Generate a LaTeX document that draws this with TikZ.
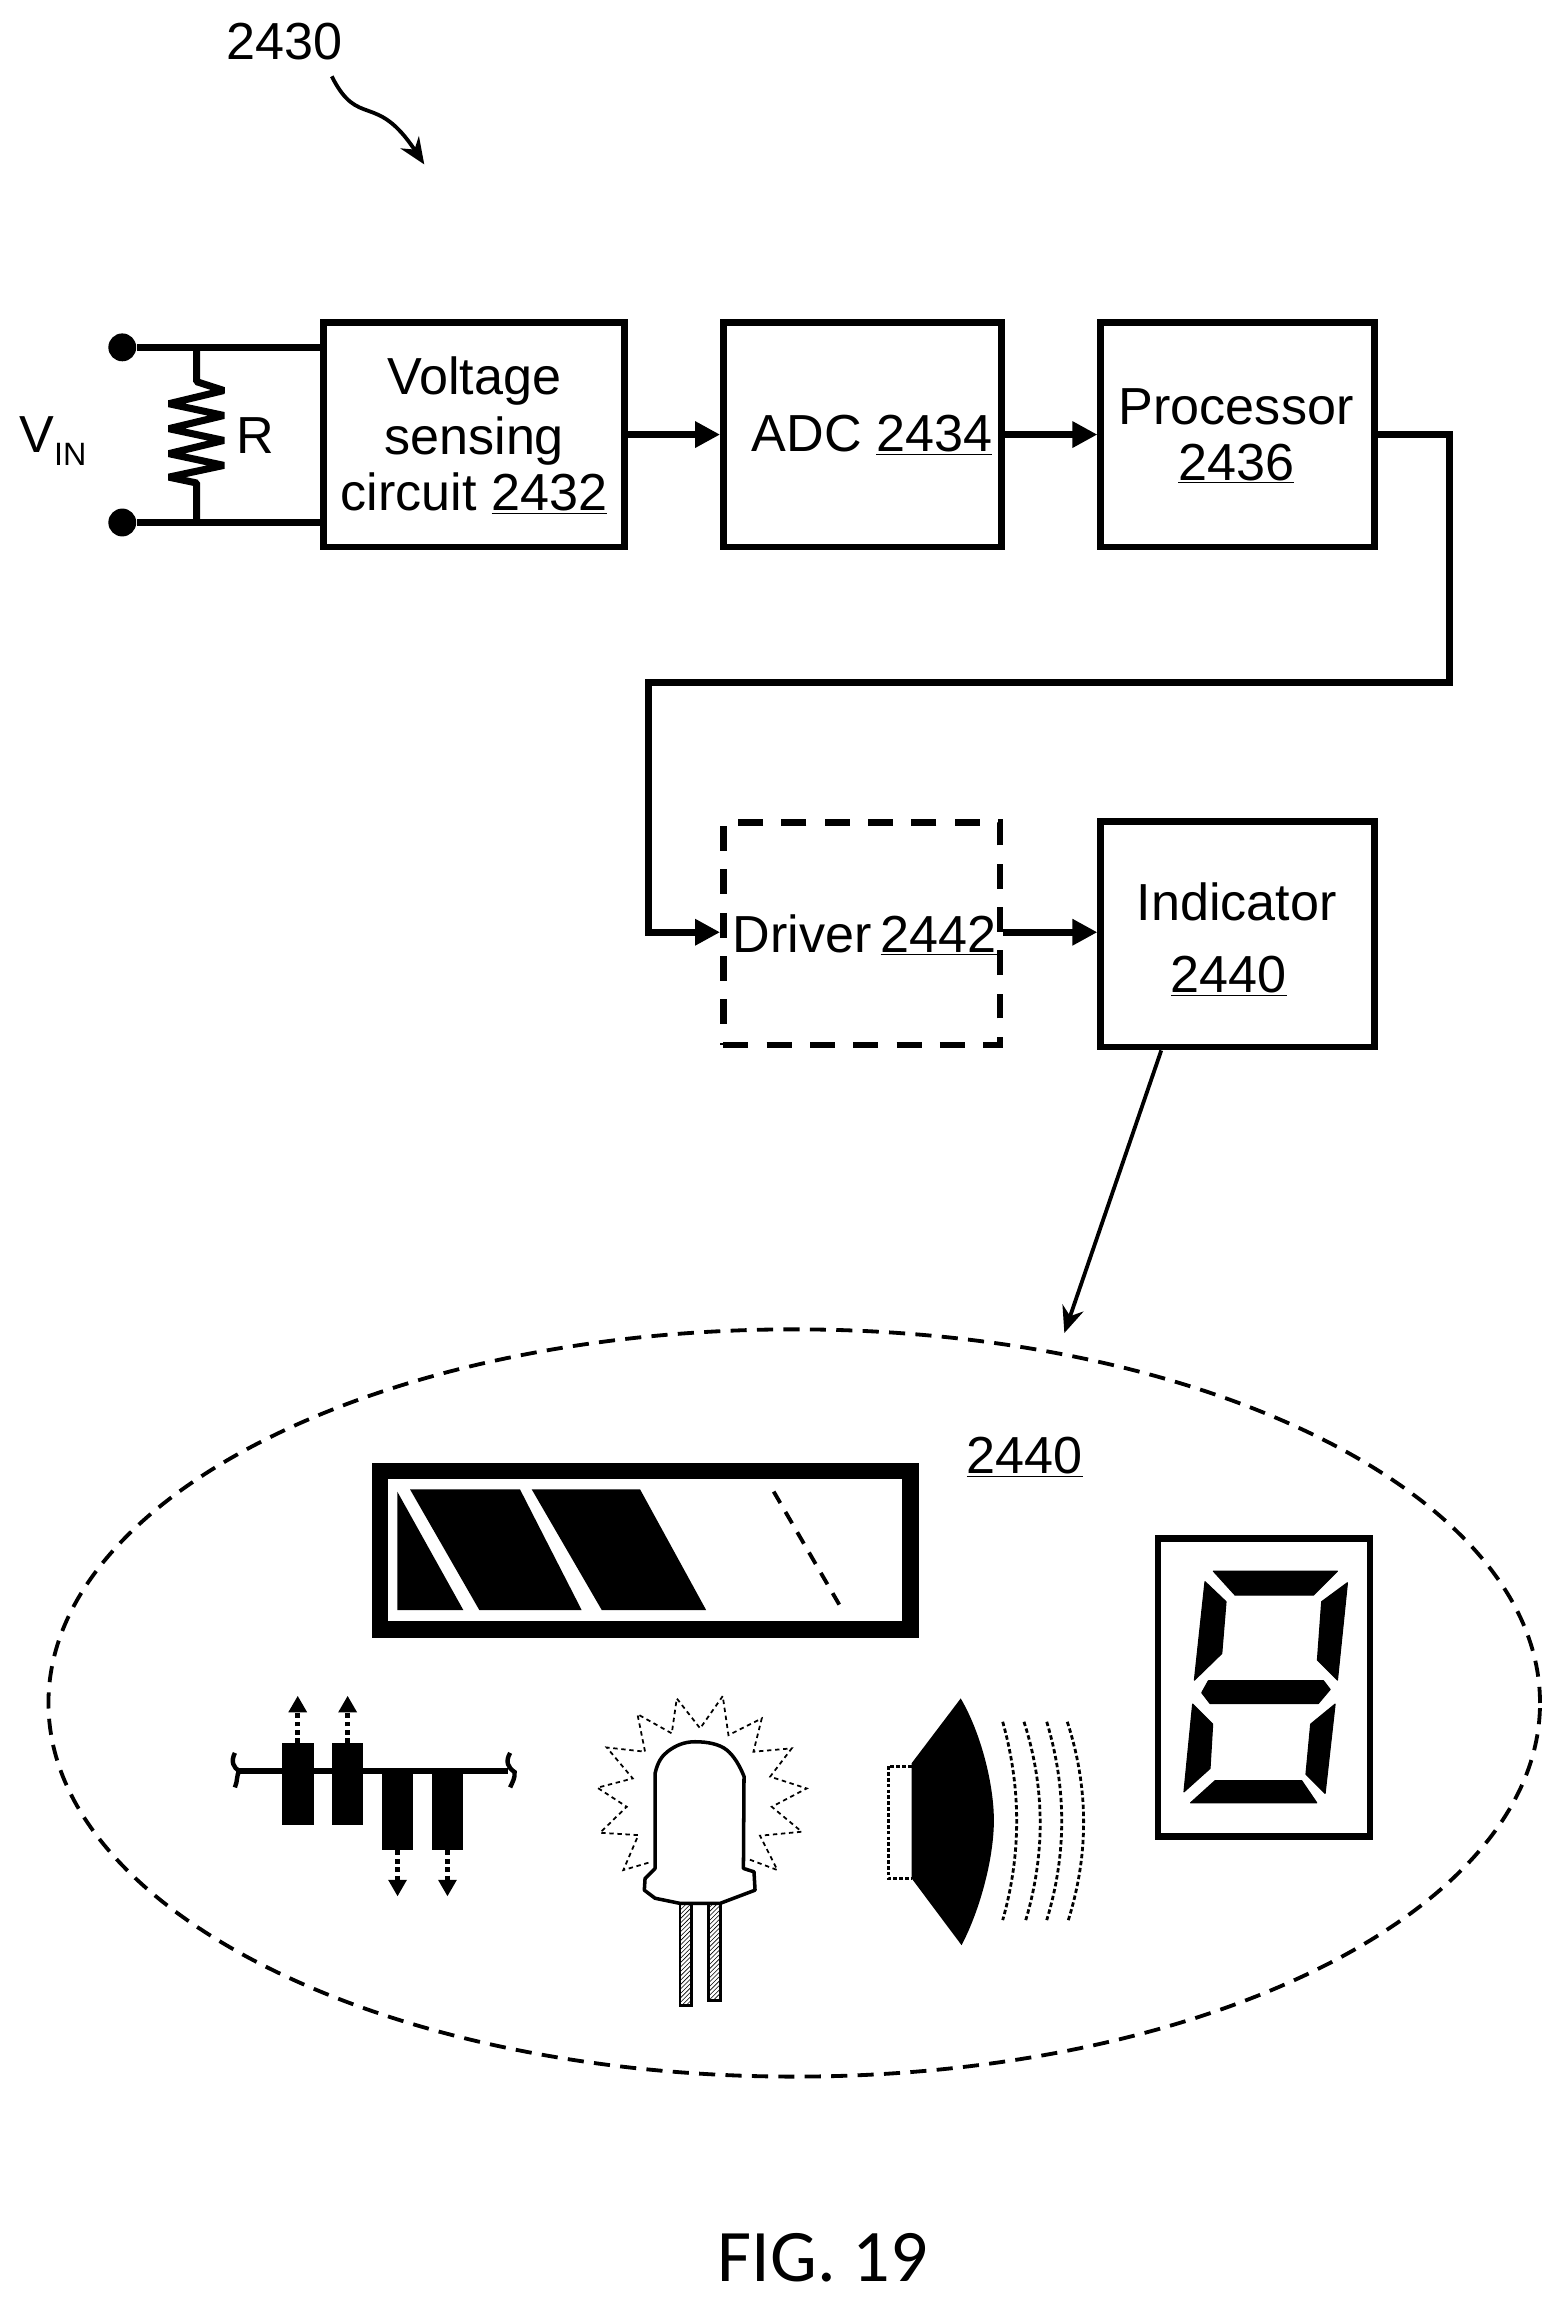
\documentclass[tikz,border=0pt]{standalone}
\usepackage{fontspec}
\setmainfont{Liberation Sans}
\newfontfamily\figfont{Carlito}
\usetikzlibrary{shapes.geometric, arrows.meta, positioning, patterns}

\begin{document}
\begin{tikzpicture}[
    x=1pt, y=-1pt,
    box/.style={draw, rectangle, line width=4.5pt, inner sep=0pt},
    dashedbox/.style={box, dash pattern=on 17pt off 12.5pt},
    label/.style={inner sep=0pt, align=center, font=\fontsize{35.5}{38}\selectfont},
    terminal/.style={circle, fill=black, inner sep=0pt, minimum size=19pt},
    wire/.style={line width=4.8pt},
    arrow/.style={-{Triangle[length=17pt,width=17pt]}, line width=4.5pt},
    thinarrow/.style={-{Stealth[length=18pt,width=15pt]}, line width=2.6pt},
    bar/.style={fill=black, rectangle, inner sep=0pt, minimum width=21.6pt, minimum height=55.7pt},
    dotarrow/.style={-{Triangle[length=11.3pt,width=12pt]}, line width=3.2pt, dash pattern=on 3.2pt off 2.5pt},
    wave/.style={line width=1.9pt, dash pattern=on 3pt off 1.8pt},
    rays/.style={line width=1.2pt, dash pattern=on 3pt off 2.5pt},
    leg/.style={line width=2pt, pattern=north east lines},
    segment/.style={fill=black, draw=black, line width=0.8pt, line join=round}
]
\useasboundingbox (0,0) rectangle (1064,1569.4);

% Top reference
\node[label] (ref) at (193.5,28) {2430};
\coordinate (reftail) at (226,52);
\coordinate (reftip) at (289,112);
\draw[thinarrow] (reftail) .. controls (244,88) and (256,62) .. (reftip);

% Input circuit
\node[terminal] (topin) at (83.3,236.6) {};
\node[terminal] (botin) at (83.3,355.9) {};
\node[label, anchor=base west] (vin) at (13,308.4) {V\raisebox{-9pt}{\fontsize{22}{22}\selectfont IN}};
\node[label] (rlabel) at (173.7,297) {R};

% Blocks
\node[box, minimum width=205pt, minimum height=153pt] (sensing) at (322.7,296) {};
\node[box, minimum width=189.5pt, minimum height=153pt] (adc) at (587.5,296) {};
\node[box, minimum width=186.5pt, minimum height=153pt] (proc) at (843,296) {};
\node[dashedbox, minimum width=188.5pt, minimum height=151.5pt] (driver) at (587,636) {};
\node[box, minimum width=186.5pt, minimum height=153.5pt] (indicator) at (843,636.5) {};

% Block texts
\node[label] (sensingtext) at (323,296.5) {Voltage\\[3pt]sensing\\circuit \underline{2432}};
\node[label] (adctext) at (594,296.5) {ADC \underline{2434}};
\node[label] (proctext) at (842,297) {Processor\\\underline{2436}};
\node[label] (drivertext) at (589,637) {Driver\,\underline{2442}};
\node[label] (indicatortext) at (842.5,640) {Indicator\\[11pt]\hspace*{-11pt}\underline{2440}};

% Wires of the input
\coordinate (sensetop) at (sensing.west |- topin);
\coordinate (sensebot) at (sensing.west |- botin);
\coordinate (rtop) at (134,236.6);
\coordinate (rbot) at (134,355.9);
\draw[wire] (topin) -- (sensetop);
\draw[wire] (botin) -- (sensebot);
\draw[wire, line join=bevel] (rtop) -- (134,260) -- (152.5,266) -- (115,275) -- (152.5,283) -- (115,292) -- (152.5,300) -- (115,309) -- (152.5,317) -- (115,325) -- (134,329) -- (rbot);

% Arrows
\draw[arrow] (sensing) -- (adc);
\draw[arrow] (adc) -- (proc);
\draw[arrow] (proc.east) -- (987.5,296) -- (987.5,465) -- (441.6,465) -- (441.6,635) -- (driver.west |- 0,635);
\draw[arrow] (driver.east |- 0,635) -- (indicator.west |- 0,635);

% Indicator detail
\node[draw, ellipse, dash pattern=on 11pt off 7pt, line width=2.6pt, inner sep=0pt, minimum width=1016pt, minimum height=509pt] (detail) at (541,1160) {};
\node[label] (detailref) at (698,992.5) {\underline{2440}};
\coordinate (detailtip) at (725,908);
\draw[thinarrow] ([xshift=-52pt]indicator.south) -- (detailtip);

% Battery
\draw[line width=11.4pt] (258.8,1002) rectangle (620,1109.8);
\fill (270.6,1016) -- (270.6,1096.7) -- (315.6,1096.7) -- cycle;
\fill (279.3,1014.5) -- (354.2,1014.5) -- (396.2,1096.7) -- (326.5,1096.7) -- cycle;
\fill (362.2,1014.5) -- (436,1014.5) -- (481,1096.7) -- (409.9,1096.7) -- cycle;
\draw[line width=2.6pt, dash pattern=on 9pt off 7pt] (527,1016) -- (574,1097);

% Pulses
\draw[line width=4.5pt] (161,1206.4) -- (346,1206.4);
\draw[line width=3pt] (160,1194) .. controls (157,1200) and (159,1204) .. (163,1206.4) .. controls (161,1209) and (162,1213) .. (160,1217.5);
\draw[line width=3pt] (347.5,1194) .. controls (344,1200) and (346,1204) .. (350.5,1207) .. controls (351,1211) and (349,1214) .. (347.5,1217.5);
\node[bar] (barone) at (202.8,1215.3) {};
\node[bar] (bartwo) at (236.8,1215.3) {};
\node[bar] (barthree) at (270.8,1232.4) {};
\node[bar] (barfour) at (304.8,1232.4) {};
\draw[dotarrow] (barone.north) -- ++(0,-32.2);
\draw[dotarrow] (bartwo.north) -- ++(0,-32.2);
\draw[dotarrow] (barthree.south) -- ++(0,31.3);
\draw[dotarrow] (barfour.south) -- ++(0,31.3);

% LED
\draw[line width=2.4pt, line join=round] (446.2,1272.7) -- (446.2,1208) .. controls (448,1200) and (451,1196) .. (454.6,1193.2) .. controls (460,1189) and (466,1186.4) .. (473.4,1186.4) .. controls (482,1186.4) and (490,1188) .. (495,1192) .. controls (500,1196) and (504,1203) .. (506.8,1210) -- (506.4,1272.7) -- (513.6,1275) -- (514.3,1287.5) -- (490.5,1296.5) -- (463.2,1296.5) -- (446.2,1293) -- (438.9,1287.5) -- (439.4,1279.5) -- cycle;
\draw[leg] (463.2,1296.5) rectangle (471.2,1365.8);
\draw[leg] (482.5,1296.5) rectangle (490.9,1362.4);
\draw[rays] (441.7,1268.8) -- (424.6,1273.8) -- (434.8,1250) -- (408.7,1248.4) -- (426.9,1230.7) -- (406.9,1217.7) -- (431,1211.4) -- (413.3,1190.3) -- (439.4,1193.2) -- (434.2,1167.6) -- (457.6,1180.7) -- (461,1156.9) -- (476.9,1177.3) -- (492.3,1155.3) -- (496.2,1181.9) -- (518.9,1170.5) -- (513.2,1193.2) -- (539.3,1190.9) -- (524.6,1210.2) -- (549.5,1218.2) -- (525.7,1230.7) -- (546.1,1247.7) -- (517.7,1250.4) -- (529.5,1273.8) -- (508.6,1265.9);

% Speaker
\draw[line width=2pt, dash pattern=on 2.5pt off 1.5pt] (621,1203) -- (605,1203) -- (605,1279.5) -- (621,1279.5);
\fill (621,1201) -- (654.4,1156.9) .. controls (668,1180) and (677,1215) .. (677,1240) .. controls (677,1265) and (668,1300) .. (655,1325) -- (621,1279.5) -- cycle;
\draw[wave] (683,1172.8) .. controls (695.7,1218) and (695.7,1263) .. (683,1307.9);
\draw[wave] (697.5,1172.8) .. controls (712,1218) and (712,1263) .. (698.7,1307.9);
\draw[wave] (713,1172.8) .. controls (726.6,1218) and (726.6,1263) .. (713,1307.9);
\draw[wave] (727,1172.8) .. controls (741.7,1218) and (741.7,1263) .. (727.7,1307.9);

% Seven segment display
\node[draw, rectangle, line width=4.3pt, inner sep=0pt, minimum width=144pt, minimum height=203pt] (display) at (861,1149.5) {};
\path[segment] (826.5,1070.2) -- (911,1070.2) -- (894.6,1086.5) -- (841.3,1086.5) -- cycle;
\path[segment] (820.8,1077.4) -- (835.1,1091) -- (832.2,1126.3) -- (813.6,1144.4) -- cycle;
\path[segment] (917.8,1078.1) -- (900.3,1091) -- (897.4,1130.8) -- (911,1144.4) -- cycle;
\path[segment] (823.1,1144.9) -- (901.5,1144.9) -- (906,1150.8) -- (898,1160.3) -- (824.2,1160.3) -- (818.6,1153) -- cycle;
\path[segment] (812.4,1160.8) -- (826,1174.4) -- (824.2,1204.6) -- (806.5,1220.5) -- cycle;
\path[segment] (909.4,1160.8) -- (892.8,1174.4) -- (889.6,1208.5) -- (902.6,1221.6) -- cycle;
\path[segment] (827.6,1213) -- (886.7,1213) -- (896.9,1228) -- (811,1228) -- cycle;

% Caption
\node[inner sep=0pt, font=\figfont\fontsize{50.5}{50.5}\selectfont] (caption) at (560.5,1538) {FIG. 19};
\end{tikzpicture}
\end{document}
